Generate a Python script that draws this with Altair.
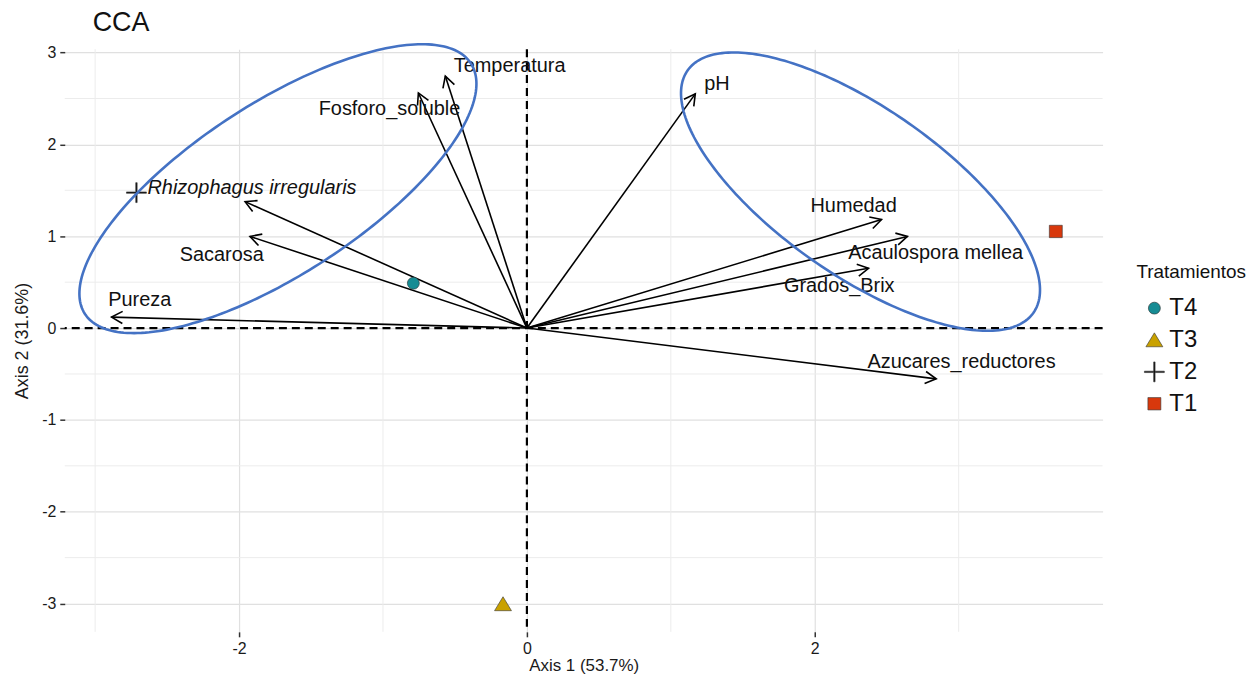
import altair as alt
import pandas as pd
import numpy as np

FONT = "Liberation Sans"

# ---- data -------------------------------------------------------------
vec_names = ["Temperatura", "Fosforo_soluble", "pH", "Rhizophagus irregularis",
             "Sacarosa", "Pureza", "Humedad", "Acaulospora mellea",
             "Grados_Brix", "Azucares_reductores"]
vec_x = [-0.567, -0.754, 1.17, -1.958, -1.924, -2.886, 2.464, 2.644, 2.374, 2.844]
vec_y = [2.744, 2.56, 2.55, 1.377, 0.998, 0.119, 1.182, 0.998, 0.651, -0.553]
lab_x = [-0.12, -0.955, 1.32, -1.91, -2.12, -2.69, 2.27, 2.84, 2.17, 3.02]
lab_y = [2.85, 2.39, 2.66, 1.52, 0.80, 0.30, 1.33, 0.82, 0.46, -0.37]

trt = ["T4", "T3", "T2", "T1"]
trt_x = [-0.789, -0.166, -2.713, 3.675]
trt_y = [0.488, -3.004, 1.475, 1.052]

x_ticks = [-2, 0, 2]
y_ticks = [-3, -2, -1, 0, 1, 2, 3]
x_minor = [-3, -1, 1, 3]
y_minor = [-2.5, -1.5, -0.5, 0.5, 1.5, 2.5]

# annotation ellipses (centre in data units, semi-axes in px, screen angle)
ell_cx = [-1.730, 2.318]
ell_cy = [1.518, 1.486]
ell_a = [231, 212]
ell_b = [86, 84]
ell_ang = [-33, 35]

# ---- layout -----------------------------------------------------------
W, H = 1042, 585
XDOM = [-3.211, 4.0]
YDOM = [-3.308, 3.037]
KX = W / (XDOM[1] - XDOM[0])
KY = H / (YDOM[1] - YDOM[0])

vec = pd.DataFrame({"name": vec_names, "x": vec_x, "y": vec_y,
                    "lx": lab_x, "ly": lab_y})
vec["x0"] = 0.0
vec["y0"] = 0.0
vec["ang"] = (np.degrees(np.arctan2(-vec["y"] * KY, vec["x"] * KX))) % 360

pts = pd.DataFrame({"trt": trt, "x": trt_x, "y": trt_y})

rows = []
t = np.linspace(0, 2 * np.pi, 241)
for k in range(len(ell_cx)):
    phi = np.radians(ell_ang[k])
    sx = ell_a[k] * np.cos(t) * np.cos(phi) - ell_b[k] * np.sin(t) * np.sin(phi)
    sy = ell_a[k] * np.cos(t) * np.sin(phi) + ell_b[k] * np.sin(t) * np.cos(phi)
    for i in range(len(t)):
        rows.append({"eid": k, "i": i, "ex": ell_cx[k] + sx[i] / KX,
                     "ey": ell_cy[k] - sy[i] / KY})
ell = pd.DataFrame(rows)

xs = alt.Scale(domain=XDOM, nice=False, zero=False)
ys = alt.Scale(domain=YDOM, nice=False, zero=False)
xaxis = alt.Axis(title="Axis 1 (53.7%)", values=x_ticks, labelExpr="'' + datum.value",
                 grid=True, gridColor="#e0e0e0", gridWidth=1.2, domain=False,
                 tickColor="#333", tickSize=5, tickWidth=1.5, labelPadding=4,
                 labelFont=FONT, labelFontSize=16, labelColor="#1a1a1a",
                 titleFont=FONT, titleFontSize=17, titleFontWeight="normal",
                 titleColor="#1a1a1a", titlePadding=1)
yaxis = alt.Axis(title="Axis 2 (31.6%)", values=y_ticks, labelExpr="'' + datum.value",
                 grid=True, gridColor="#e0e0e0", gridWidth=1.2, domain=False,
                 tickColor="#333", tickSize=5, tickWidth=1.5, labelPadding=4,
                 labelFont=FONT, labelFontSize=16, labelColor="#1a1a1a",
                 titleFont=FONT, titleFontSize=18, titleFontWeight="normal",
                 titleColor="#1a1a1a", titlePadding=10)


def X(f):
    return alt.X(f, type="quantitative", scale=xs, axis=xaxis)


def Y(f):
    return alt.Y(f, type="quantitative", scale=ys, axis=yaxis)


gx = alt.Chart(pd.DataFrame({"v": x_minor})).mark_rule(
    color="#ececec", strokeWidth=1).encode(x=X("v"))
gy = alt.Chart(pd.DataFrame({"v": y_minor})).mark_rule(
    color="#ececec", strokeWidth=1).encode(y=Y("v"))

zx = alt.Chart(pd.DataFrame({"v": [0]})).mark_rule(
    color="black", strokeWidth=2.2, strokeDash=[8, 5]).encode(x=X("v"))
zy = alt.Chart(pd.DataFrame({"v": [0]})).mark_rule(
    color="black", strokeWidth=2.2, strokeDash=[8, 5]).encode(y=Y("v"))

arrows = alt.Chart(vec).mark_rule(color="black", strokeWidth=1.6).encode(
    x=X("x0"), y=Y("y0"), x2="x", y2="y")

heads = alt.Chart(vec).mark_point(
    shape="M-1,-0.55L0,0L-1,0.55", filled=False, size=484, strokeWidth=1.6,
    color="black", opacity=1).encode(
    x=X("x"), y=Y("y"), angle=alt.Angle("ang:Q", scale=None))

labels = alt.Chart(vec).transform_filter(
    "datum.name != 'Rhizophagus irregularis'").mark_text(
    font=FONT, fontSize=20, color="#111").encode(
    x=X("lx"), y=Y("ly"), text="name:N")
labels_it = alt.Chart(vec).transform_filter(
    "datum.name == 'Rhizophagus irregularis'").mark_text(
    font=FONT, fontSize=20, fontStyle="italic", color="#111").encode(
    x=X("lx"), y=Y("ly"), text="name:N")

shapes = [
    "M0.6,0A0.6,0.6 0 1,1 -0.6,0A0.6,0.6 0 1,1 0.6,0Z",
    "M0,-0.72L0.85,0.68L-0.85,0.68Z",
    "M-1,-0.07L-0.07,-0.07L-0.07,-1L0.07,-1L0.07,-0.07L1,-0.07L1,0.07L0.07,0.07L0.07,1L-0.07,1L-0.07,0.07L-1,0.07Z",
    "M-0.65,-0.62L0.65,-0.62L0.65,0.62L-0.65,0.62Z",
]
colors = ["#168c94", "#c9a100", "#111111", "#d8380c"]
leg = alt.Legend(title="Tratamientos")

points = alt.Chart(pts).mark_point(
    filled=True, size=400, stroke="#333", strokeWidth=0.6, opacity=1).encode(
    x=X("x"), y=Y("y"),
    shape=alt.Shape("trt:N", scale=alt.Scale(domain=trt, range=shapes), legend=leg),
    color=alt.Color("trt:N", scale=alt.Scale(domain=trt, range=colors), legend=leg))

ellipses = alt.Chart(ell).mark_line(color="#4472C4", strokeWidth=2.6).encode(
    x=X("ex"), y=Y("ey"), detail="eid:N", order="i:Q")

title = alt.Chart(pd.DataFrame({"t": ["CCA"]})).mark_text(
    font=FONT, fontSize=27, color="#111", align="left", baseline="alphabetic").encode(
    x=alt.value(28), y=alt.value(-18), text="t:N")

chart = alt.layer(gx, gy, zx, zy, arrows, heads, labels, labels_it, points,
                  ellipses, title).properties(
    width=W, height=H,
    padding={"left": 57, "top": 40, "right": 146, "bottom": 43},
    autosize=alt.AutoSizeParams(type="none"),
    background="white",
).configure_view(stroke=None).configure_legend(
    orient="none", legendX=1076, legendY=215,
    titleFont=FONT, titleFontSize=19, titleFontWeight="normal", titleColor="#111",
    labelFont=FONT, labelFontSize=24, labelColor="#111",
    symbolSize=400, symbolStrokeColor="#333", symbolStrokeWidth=0.6,
    symbolOffset=6, rowPadding=8, titlePadding=14, labelOffset=3,
)

chart.save("out.html", embed_options={"renderer": "svg", "actions": False})
